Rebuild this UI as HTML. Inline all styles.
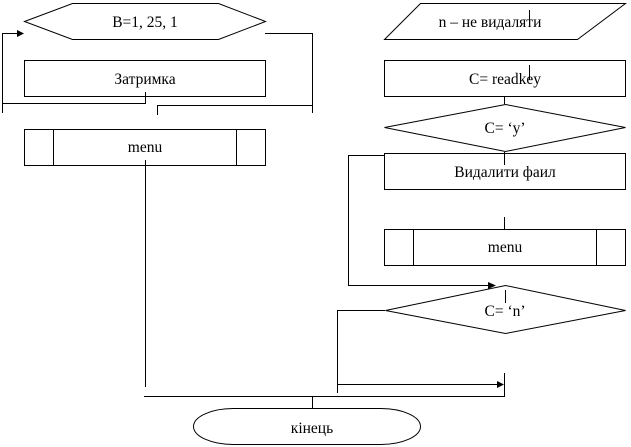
<!DOCTYPE html>
<html><head><meta charset="utf-8"><style>
html,body{margin:0;padding:0;background:#fff;width:631px;height:447px;overflow:hidden}
text{font-family:"Liberation Serif",serif;font-size:15.5px;fill:#000}
</style></head><body>
<svg width="631" height="447" viewBox="0 0 631 447" xmlns="http://www.w3.org/2000/svg">
<g fill="none" stroke="#000" stroke-width="1">
<polygon points="24.5,21.5 72.5,3.5 218.5,3.5 265.5,21.5 218.5,39.5 72.5,39.5"/>
<rect x="24.5" y="60.5" width="241" height="36"/>
<rect x="24.5" y="129.5" width="241" height="36"/>
<line x1="53.5" y1="129" x2="53.5" y2="166"/>
<line x1="236.5" y1="129" x2="236.5" y2="166"/>
<polyline points="2.5,113 2.5,33.5 18,33.5"/>
<polyline points="2.5,103.5 145.5,103.5 145.5,92"/>
<polyline points="157.5,115 157.5,105.5 312.5,105.5 312.5,33.5 265,33.5"/>
<line x1="312.5" y1="105" x2="312.5" y2="113"/>
<line x1="145.5" y1="160" x2="145.5" y2="387"/>
<polyline points="144,396.5 504.5,396.5 504.5,373"/>
<line x1="312.5" y1="396" x2="312.5" y2="408"/>
<rect x="193.5" y="408.5" width="227" height="36" rx="40" ry="18"/>
<polygon points="384.5,39.5 420.5,3.5 625.5,3.5 577.5,39.5"/>
<line x1="529.5" y1="10" x2="529.5" y2="26"/>
<rect x="384.5" y="60.5" width="241" height="36"/>
<line x1="529.5" y1="65" x2="529.5" y2="80"/>
<line x1="504.5" y1="96" x2="504.5" y2="104"/>
<polygon points="384.5,127.5 505.5,104.5 625.5,127.5 505.5,151.5"/>
<rect x="384.5" y="153.5" width="241" height="36"/>
<line x1="504.5" y1="152" x2="504.5" y2="165"/>
<rect x="384.5" y="229.5" width="241" height="36"/>
<line x1="413.5" y1="229" x2="413.5" y2="266"/>
<line x1="596.5" y1="229" x2="596.5" y2="266"/>
<line x1="504.5" y1="217" x2="504.5" y2="229"/>
<polyline points="384,155.5 348.5,155.5 348.5,285.5 489,285.5"/>
<polygon points="385.5,310.5 505.5,285.5 625.5,310.5 505.5,333.5"/>
<line x1="505.5" y1="290" x2="505.5" y2="303"/>
<polyline points="385,310.5 337.5,310.5 337.5,393"/>
<line x1="337" y1="384.5" x2="498" y2="384.5"/>
</g>
<g fill="#000">
<polygon points="24,33.5 17,30 17,37"/>
<polygon points="496,285.5 488,282 488,289"/>
<polygon points="504,384.5 497,381 497,388"/>
</g>
<text x="145" y="27" text-anchor="middle">B=1, 25, 1</text>
<text x="145" y="84" text-anchor="middle">Затримка</text>
<text x="145" y="152" text-anchor="middle">menu</text>
<text x="490" y="27" text-anchor="middle">n – не видаляти</text>
<text x="505" y="84" text-anchor="middle">C= readkey</text>
<text x="505" y="133" text-anchor="middle">C= ‘y’</text>
<text x="505" y="177" text-anchor="middle">Видалити фаил</text>
<text x="505" y="252" text-anchor="middle">menu</text>
<text x="505" y="316" text-anchor="middle">C= ‘n’</text>
<text x="312" y="433" text-anchor="middle">кінець</text>
</svg>
</body></html>
